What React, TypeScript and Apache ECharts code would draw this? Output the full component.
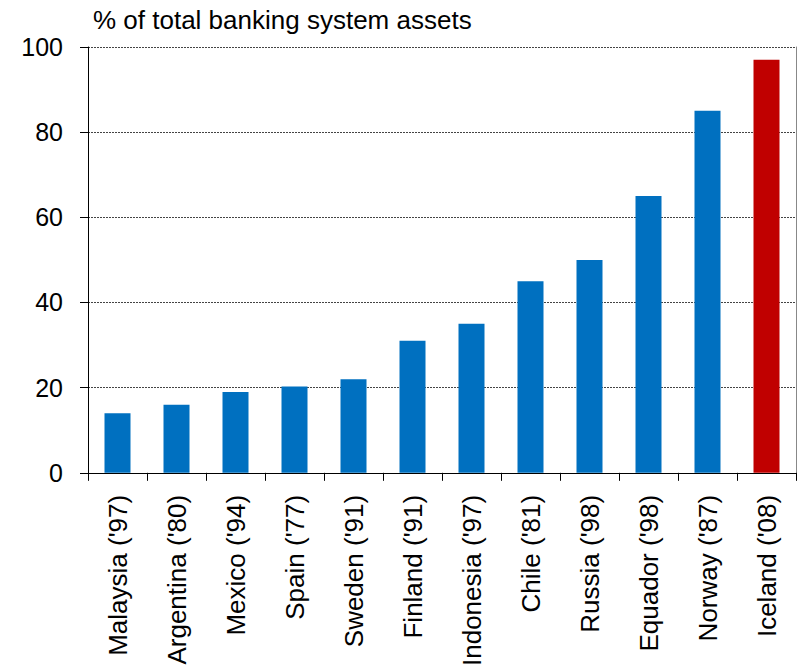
import React, { useEffect, useRef } from "react";
import * as echarts from "echarts";

const categories = [
  "Malaysia ('97)",
  "Argentina ('80)",
  "Mexico ('94)",
  "Spain ('77)",
  "Sweden ('91)",
  "Finland ('91)",
  "Indonesia ('97)",
  "Chile ('81)",
  "Russia ('98)",
  "Equador ('98)",
  "Norway ('87)",
  "Iceland ('08)",
];
const values = [14, 16, 19, 20.3, 22, 31, 35, 45, 50, 65, 85, 97];
const highlight = "Iceland ('08)";
const titleText = "% of total banking system assets";

const FONT = "'Liberation Sans', Arial, Helvetica, sans-serif";

export default function App() {
  const ref = useRef<HTMLDivElement>(null);
  useEffect(() => {
    document.body.style.margin = "0";
    if (!ref.current) return;
    const chart = echarts.init(ref.current, null, { renderer: "svg" });
    chart.setOption({
      animation: false,
      backgroundColor: "#ffffff",
      textStyle: { fontFamily: FONT },
      title: {
        text: titleText,
        left: 93,
        top: 7,
        padding: 0,
        textStyle: { fontFamily: FONT, fontSize: 26, fontWeight: "normal", color: "#000" },
      },
      grid: { left: 88, right: 2, top: 47, bottom: 194, containLabel: false },
      xAxis: {
        type: "category",
        data: categories,
        axisLine: { lineStyle: { color: "#000", width: 1 } },
        axisTick: { show: true, alignWithLabel: false, length: 8, lineStyle: { color: "#000" } },
        axisLabel: {
          rotate: 90,
          fontSize: 26,
          color: "#000",
          fontFamily: FONT,
          margin: 22,
          interval: 0,
        },
      },
      yAxis: [
        {
          type: "value",
          min: 0,
          max: 100,
          interval: 20,
          axisLine: { show: true, lineStyle: { color: "#000", width: 1 } },
          axisTick: { show: true, length: 8, lineStyle: { color: "#000" } },
          axisLabel: { fontSize: 25, color: "#000", fontFamily: FONT, margin: 25 },
          splitLine: { show: true, lineStyle: { color: "#444", type: [2, 1], width: 1 } },
        },
        {
          type: "value",
          position: "right",
          min: 0,
          max: 100,
          interval: 20,
          axisLine: { show: true, lineStyle: { color: "#888", width: 1 } },
          axisTick: { show: false },
          axisLabel: { show: false },
          splitLine: { show: false },
        },
      ],
      series: [
        {
          type: "bar",
          barWidth: 26,
          data: values.map((v, i) => ({
            value: v,
            itemStyle: { color: categories[i] === highlight ? "#C00000" : "#0070C0" },
          })),
        },
      ],
    });
    return () => chart.dispose();
  }, []);
  return <div ref={ref} style={{ width: 798, height: 669 }} />;
}
